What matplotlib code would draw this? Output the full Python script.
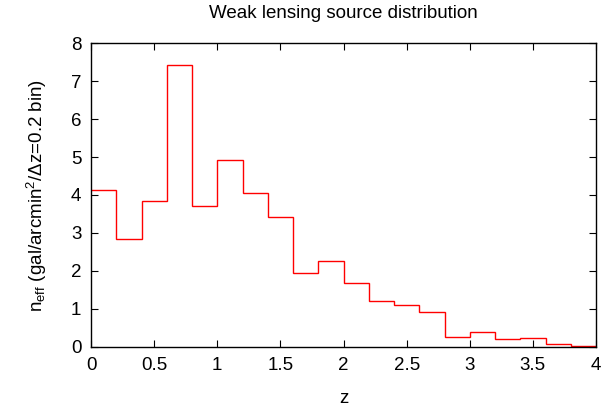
import matplotlib
matplotlib.use('Agg')
import matplotlib.pyplot as plt
import numpy as np

# Source counts per redshift bin (width 0.2)
z_edges = [0.0, 0.2, 0.4, 0.6, 0.8, 1.0, 1.2, 1.4, 1.6, 1.8, 2.0,
           2.2, 2.4, 2.6, 2.8, 3.0, 3.2, 3.4, 3.6, 3.8, 4.0]
n_eff = [4.13, 2.83, 3.83, 7.41, 3.70, 4.92, 4.04, 3.41, 1.94, 2.26,
         1.68, 1.21, 1.10, 0.92, 0.27, 0.39, 0.21, 0.24, 0.08, 0.02]

x_ticks = [0, 0.5, 1, 1.5, 2, 2.5, 3, 3.5, 4]
x_tick_labels = ['0', '0.5', '1', '1.5', '2', '2.5', '3', '3.5', '4']
y_ticks = [0, 1, 2, 3, 4, 5, 6, 7, 8]

plt.rcParams['font.family'] = ['Liberation Sans', 'DejaVu Sans']
plt.rcParams['mathtext.fontset'] = 'custom'
plt.rcParams['mathtext.rm'] = 'Liberation Sans'
plt.rcParams['mathtext.it'] = 'Liberation Sans'

fs = 13.5

fig = plt.figure(figsize=(6.08, 4.12), dpi=100)
ax = fig.add_axes([0.1497, 0.1578, 0.8306, 0.7378])

ax.stairs(n_eff, z_edges, baseline=None, color='#ff0000', linewidth=1.0)

ax.set_xlim(0, 4)
ax.set_ylim(0, 8)
ax.set_xticks(x_ticks)
ax.set_xticklabels(x_tick_labels)
ax.set_yticks(y_ticks)
ax.tick_params(direction='in', top=True, right=True, length=5, width=0.8,
               labelsize=fs, pad=7)
for side in ax.spines.values():
    side.set_linewidth(1.0)

ax.set_xlabel('z', fontsize=fs, labelpad=12)
ax.set_ylabel(r'n$_{\rm eff}$ (gal/arcmin$^{2}$/$\Delta$z=0.2 bin)', fontsize=fs, labelpad=16)
ax.set_title('Weak lensing source distribution', fontsize=fs, pad=18)

fig.savefig('out.png', dpi=100)
